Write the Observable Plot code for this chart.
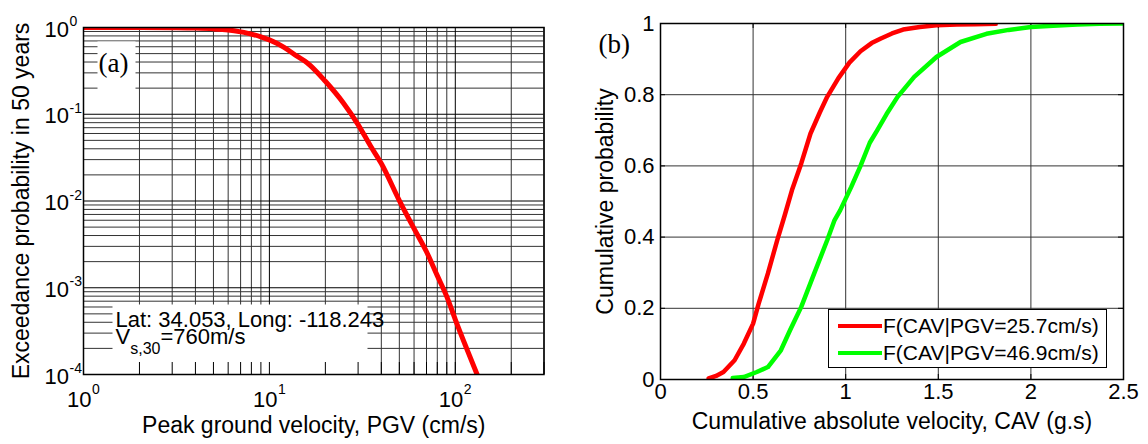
<!DOCTYPE html>
<html><head><meta charset="utf-8">
<script src="https://cdn.jsdelivr.net/npm/d3@7"></script>
<script src="https://cdn.jsdelivr.net/npm/@observablehq/plot@0.6"></script>
<style>
body{margin:0;background:#fff;}
#wrap{position:relative;width:1148px;height:444px;overflow:hidden;font-family:"Liberation Sans",Arial,sans-serif;color:#000;background:#fff;}
#left,#right,#legend{position:absolute;}
#left{left:0;top:0} #right{left:580px;top:0}
#legend{left:828px;top:309px;width:277px;height:57px;border:1px solid #000;background:#fff;font-size:21px;}
.row{position:absolute;left:0;height:24px;line-height:24px;white-space:nowrap;}
.row span.sw{position:absolute;left:9px;top:10px;width:44px;height:4px;}
.row span.tx{position:absolute;left:54px;top:0;}
</style></head><body>
<div id="wrap"><div id="left"></div><div id="right"></div><div id="legend"></div></div>
<script>
// ---- Panel (a): exceedance probability vs PGV ----
const pgv    = [1, 2, 3, 4, 5, 6, 7, 8, 9, 10, 12, 14, 16, 20, 25, 30, 35, 40, 50, 60, 70, 80, 90, 100, 115, 131];
const exceed = [1.0, 1.0, 0.995, 0.985, 0.965, 0.935, 0.89, 0.84, 0.78, 0.72, 0.59, 0.47, 0.39, 0.24, 0.135, 0.076, 0.043, 0.027, 0.0101, 0.0048, 0.0026, 0.00138, 0.00079, 0.00043, 0.0002, 0.0001];
const xTicksA = [1, 10, 100];
const xExpA = ["0", "1", "2"];
const yTicksA = [1e-4, 1e-3, 1e-2, 1e-1, 1];
const yExpA = ["-4", "-3", "-2", "-1", "0"];

// ---- Panel (b): cumulative distributions of CAV ----
const cavRed = [0.26, 0.30, 0.34, 0.40, 0.45, 0.50, 0.53, 0.58, 0.63, 0.67, 0.71, 0.76, 0.81, 0.86, 0.90, 0.96, 1.02, 1.08, 1.14, 1.19, 1.25, 1.31, 1.40, 1.49, 1.60, 1.70, 1.81];
const probRed = [0.003, 0.010, 0.021, 0.054, 0.101, 0.157, 0.213, 0.298, 0.391, 0.460, 0.532, 0.607, 0.691, 0.750, 0.794, 0.846, 0.890, 0.922, 0.945, 0.958, 0.972, 0.983, 0.990, 0.995, 0.997, 0.998, 0.999];
const cavGreen = [0.39, 0.45, 0.52, 0.58, 0.65, 0.70, 0.76, 0.83, 0.90, 0.94, 0.97, 1.03, 1.08, 1.13, 1.17, 1.22, 1.28, 1.37, 1.49, 1.62, 1.76, 1.88, 2.00, 2.12, 2.25, 2.37, 2.50];
const probGreen = [0.004, 0.007, 0.021, 0.035, 0.082, 0.139, 0.204, 0.298, 0.391, 0.448, 0.475, 0.541, 0.600, 0.665, 0.700, 0.745, 0.794, 0.850, 0.906, 0.948, 0.971, 0.982, 0.990, 0.994, 0.997, 0.999, 1.000];
const seriesNames = ["F(CAV|PGV=25.7cm/s)", "F(CAV|PGV=46.9cm/s)"];
const seriesColors = ["#ff0000", "#00ff00"];
const xTicksB = [0, 0.5, 1, 1.5, 2, 2.5];
const xLabelsB = ["0", "0.5", "1", "1.5", "2", "2.5"];
const yTicksB = [0, 0.2, 0.4, 0.6, 0.8, 1];
const yLabelsB = ["0", "0.2", "0.4", "0.6", "0.8", "1"];

// grid positions for log axes
const majorXA = [1, 10, 100];
const minorXA = [];
for (const base of [1, 10]) for (let k = 2; k <= 9; k++) minorXA.push(k * base);
minorXA.push(200, 300);
const minorYA = [];
for (let e = -4; e <= -1; e++) for (let k = 2; k <= 9; k++) minorYA.push(k * Math.pow(10, e));

const FONT = "'Liberation Sans', Arial, sans-serif";
const SERIF = "'Liberation Serif', 'Times New Roman', serif";

// ---------- Left panel ----------
const WA = 580, HA = 444, mlA = 83, mrA = 36.5, mtA = 27, mbA = 70;
const iwA = WA - mlA - mrA, ihA = HA - mtA - mbA;
const dataA = pgv.map((v, i) => ({pgv: v, p: exceed[i]}));

const left = Plot.plot({
  width: WA, height: HA,
  marginLeft: mlA, marginRight: mrA, marginTop: mtA, marginBottom: mbA,
  style: {fontFamily: FONT, fontSize: "22px", background: "white", color: "black", overflow: "visible"},
  x: {type: "log", domain: [1, 300], axis: null},
  y: {type: "log", domain: [1e-4, 1], axis: null},
  marks: [
    Plot.ruleX(minorXA, {x: d => d, stroke: "#333", strokeWidth: 1}),
    Plot.ruleY(minorYA, {y: d => d, stroke: "#333", strokeWidth: 1}),
    Plot.ruleX(majorXA, {x: d => d, stroke: "#000", strokeWidth: 1}),
    Plot.ruleY(yTicksA, {y: d => d, stroke: "#000", strokeWidth: 1}),
    // white boxes behind the annotations
    Plot.frame({fill: "white", stroke: "none", insetLeft: 14, insetTop: 14, insetRight: iwA - 52, insetBottom: ihA - 63}),
    Plot.frame({fill: "white", stroke: "none", insetLeft: 29, insetTop: ihA - 70, insetRight: iwA - 284, insetBottom: 0}),
    // inward ticks along the bottom
    Plot.tickX([...majorXA, ...minorXA], {x: d => d, stroke: "#000", strokeWidth: 1, insetTop: ihA - 12}),
    Plot.line(dataA, {x: "pgv", y: "p", stroke: "#ff0000", strokeWidth: 5, clip: true, curve: "monotone-x"}),
    Plot.frame({stroke: "#000", strokeWidth: 1.5}),
    // tick labels
    Plot.text(xTicksA, {x: d => d, frameAnchor: "bottom", text: () => "10", textAnchor: "end", lineAnchor: "bottom", dx: 8, dy: 32, fontSize: 22}),
    Plot.text(xTicksA, {x: d => d, frameAnchor: "bottom", text: (d, i) => xExpA[i], textAnchor: "start", lineAnchor: "bottom", dx: 8.5, dy: 19, fontSize: 14}),
    Plot.text(yTicksA, {y: d => d, frameAnchor: "left", text: () => "10", textAnchor: "end", lineAnchor: "bottom", dx: -14.5, dy: 9, fontSize: 22}),
    Plot.text(yTicksA, {y: d => d, frameAnchor: "left", text: (d, i) => yExpA[i], textAnchor: "start", lineAnchor: "bottom", dx: -14, dy: -1.5, fontSize: 14}),
    // axis labels
    Plot.text(["Peak ground velocity, PGV (cm/s)"], {text: d => d, frameAnchor: "bottom", textAnchor: "middle", lineAnchor: "bottom", dy: 58, fontSize: 23}),
    Plot.text(["Exceedance probability in 50 years"], {text: d => d, frameAnchor: "left", rotate: -90, textAnchor: "middle", lineAnchor: "bottom", dx: -54.5, fontSize: 23}),
    // annotations
    Plot.text(["(a)"], {text: d => d, frameAnchor: "top-left", textAnchor: "start", lineAnchor: "bottom", dx: 15, dy: 44, fontSize: 27, fontFamily: SERIF}),
    Plot.text(["Lat: 34.053, Long: -118.243"], {text: d => d, frameAnchor: "bottom-left", textAnchor: "start", lineAnchor: "bottom", dx: 32, dy: -47.5, fontSize: 22}),
    Plot.text(["V"], {text: d => d, frameAnchor: "bottom-left", textAnchor: "start", lineAnchor: "bottom", dx: 32, dy: -30.5, fontSize: 22})
  ]
});
document.getElementById("left").append(left);

// subscript for V_s,30
{
  const ns = "http://www.w3.org/2000/svg";
  const t = Array.from(left.querySelectorAll("text")).find(el => el.textContent === "V");
  if (t) {
    const main = t.textContent;
    t.textContent = "";
    const a = document.createElementNS(ns, "tspan"); a.textContent = main; t.append(a);
    const b = document.createElementNS(ns, "tspan"); b.setAttribute("font-size", "16"); b.setAttribute("dy", "10"); b.textContent = "s,30"; t.append(b);
    const c = document.createElementNS(ns, "tspan"); c.setAttribute("dy", "-10"); c.textContent = "=760m/s"; t.append(c);
  }
}

// ---------- Right panel ----------
const WB = 568, HB = 444, mlB = 80, mrB = 25, mtB = 23, mbB = 65;
const iwB = WB - mlB - mrB, ihB = HB - mtB - mbB;
const dataB = [
  ...cavRed.map((v, i) => ({cav: v, p: probRed[i], s: seriesNames[0]})),
  ...cavGreen.map((v, i) => ({cav: v, p: probGreen[i], s: seriesNames[1]}))
];

const right = Plot.plot({
  width: WB, height: HB,
  marginLeft: mlB, marginRight: mrB, marginTop: mtB, marginBottom: mbB,
  style: {fontFamily: FONT, fontSize: "22px", background: "white", color: "black", overflow: "visible"},
  x: {domain: [0, 2.5], axis: null},
  y: {domain: [0, 1], axis: null},
  color: {domain: seriesNames, range: seriesColors},
  marks: [
    Plot.ruleX(xTicksB, {x: d => d, stroke: "#333", strokeWidth: 1}),
    Plot.ruleY(yTicksB, {y: d => d, stroke: "#333", strokeWidth: 1}),
    Plot.tickX(xTicksB, {x: d => d, stroke: "#000", insetTop: ihB - 5}),
    Plot.tickX(xTicksB, {x: d => d, stroke: "#000", insetBottom: ihB - 5}),
    Plot.tickY(yTicksB, {y: d => d, stroke: "#000", insetLeft: iwB - 5}),
    Plot.tickY(yTicksB, {y: d => d, stroke: "#000", insetRight: iwB - 5}),
    Plot.line(dataB, {x: "cav", y: "p", z: "s", stroke: "s", strokeWidth: 4.5, clip: true}),
    Plot.frame({stroke: "#000", strokeWidth: 1.5}),
    Plot.text(xTicksB, {x: d => d, frameAnchor: "bottom", text: (d, i) => xLabelsB[i], textAnchor: "middle", lineAnchor: "top", dy: 4, fontSize: 22}),
    Plot.text(yTicksB, {y: d => d, frameAnchor: "left", text: (d, i) => yLabelsB[i], textAnchor: "end", lineAnchor: "middle", dx: -6, fontSize: 22}),
    Plot.text(["Cumulative absolute velocity, CAV (g.s)"], {text: d => d, frameAnchor: "bottom", textAnchor: "middle", lineAnchor: "bottom", dy: 49, fontSize: 23}),
    Plot.text(["Cumulative probability"], {text: d => d, frameAnchor: "left", rotate: -90, textAnchor: "middle", lineAnchor: "bottom", dx: -48, fontSize: 23}),
    Plot.text(["(b)"], {text: d => d, frameAnchor: "top-left", textAnchor: "start", lineAnchor: "bottom", dx: -62, dy: 29, fontSize: 27, fontFamily: SERIF})
  ]
});
document.getElementById("right").append(right);

// ---------- Legend ----------
const legend = document.getElementById("legend");
seriesNames.forEach((name, i) => {
  const row = document.createElement("div");
  row.className = "row";
  row.style.top = (4 + i * 26.5) + "px";
  row.style.width = "100%";
  const sw = document.createElement("span");
  sw.className = "sw";
  sw.style.background = seriesColors[i];
  const tx = document.createElement("span");
  tx.className = "tx";
  tx.textContent = name;
  row.append(sw, tx);
  legend.append(row);
});
</script>
</body></html>
